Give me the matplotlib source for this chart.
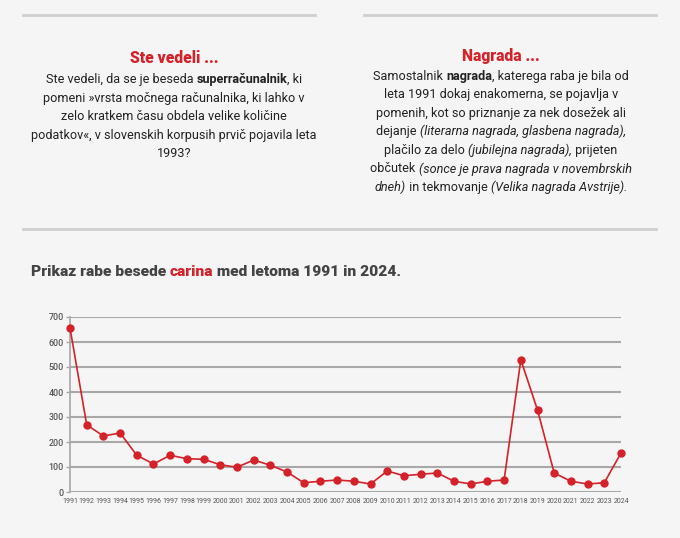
import numpy as np
import matplotlib.pyplot as plt

# data
years = list(range(1991, 2025))
counts = [656, 269, 224, 236, 147, 112, 147, 133, 131, 109,
          99, 128, 107, 80, 37, 43, 48, 43, 32, 84,
          65, 71, 76, 43, 32, 43, 48, 529, 328, 76,
          43, 32, 37, 156]
y_ticks = [0, 100, 200, 300, 400, 500, 600, 700]

RED = '#d3222a'
DARK = '#222222'
BG = '#f5f5f5'
W, H = 680, 538
BODY = 'Roboto'

fig = plt.figure(figsize=(W / 100, H / 100), dpi=100)
fig.patch.set_facecolor(BG)
renderer = fig.canvas.get_renderer()


def fx(px):
  return px / W


def fy(py):
  return 1 - py / H


def seg_width(s, **kw):
  # measure width with spaces kept
  a = fig.text(0, 0, 'a' + s + 'a', **kw)
  b = fig.text(0, 0, 'aa', **kw)
  w = a.get_window_extent(renderer).width - b.get_window_extent(renderer).width
  a.remove()
  b.remove()
  return w


def line_width(parts, size, family=BODY):
  return sum(seg_width(s, fontsize=size, fontweight=wt, fontstyle=st, family=family)
             for s, wt, st, c in parts)


def fit(parts, target):
  return 10 * target / line_width(parts, 10)


def rich_line(xc, y, parts, size, family=BODY):
  # parts: (text, weight, style, color)
  kws = []
  widths = []
  for s, wt, st, c in parts:
    kw = dict(fontsize=size, fontweight=wt, fontstyle=st, color=c, family=family)
    kws.append(kw)
    widths.append(seg_width(s, **kw))
  x = xc - sum(widths) / 2
  for (s, wt, st, c), kw, w in zip(parts, kws, widths):
    fig.text(fx(x), fy(y), s, va='baseline', ha='left', **kw)
    x += w


def n(s):
  return (s, 'normal', 'normal', DARK)


def b(s):
  return (s, 'bold', 'normal', DARK)


def i(s):
  return (s, 'normal', 'italic', DARK)


# divider lines
for x0, x1, yy in [(23, 315, 15), (364, 656, 15), (23, 656, 229)]:
  fig.add_artist(plt.Line2D([fx(x0), fx(x1)], [fy(yy), fy(yy)], color='#cfcfcf', lw=2))

left_title = [('Ste vedeli ...', 'heavy', 'normal', RED)]
left_lines = [
  [n('Ste vedeli, da se je beseda '), b('superračunalnik'), n(', ki')],
  [n('pomeni »vrsta močnega računalnika, ki lahko v')],
  [n('zelo kratkem času obdela velike količine')],
  [n('podatkov«, v slovenskih korpusih prvič pojavila leta')],
  [n('1993?')],
]
right_title = [('Nagrada ...', 'heavy', 'normal', RED)]
right_lines = [
  [n('Samostalnik '), b('nagrada'), n(', katerega raba je bila od')],
  [n('leta 1991 dokaj enakomerna, se pojavlja v')],
  [n('pomenih, kot so priznanje za nek dosežek ali')],
  [n('dejanje '), i('(literarna nagrada, glasbena nagrada),')],
  [n('plačilo za delo '), i('(jubilejna nagrada),'), n(' prijeten')],
  [n('občutek '), i('(sonce je prava nagrada v novembrskih')],
  [i('dneh)'), n(' in tekmovanje '), i('(Velika nagrada Avstrije).')],
]

# sizes fitted to widths measured on the reference
body_size = fit(left_lines[3], 284)
head_size = fit(left_title, 88)

# left box
rich_line(174, 63, left_title, head_size)
for k, parts in enumerate(left_lines):
  rich_line(174, 83 + k * 18.6, parts, body_size)

# right box
rich_line(501, 61, right_title, head_size)
for k, parts in enumerate(right_lines):
  rich_line(501, 79.5 + k * 18.6, parts, body_size)

# chart title
title_parts = [('Prikaz rabe besede ', 'heavy', 'normal', '#444444'),
               ('carina', 'heavy', 'normal', RED),
               (' med letoma 1991 in 2024.', 'heavy', 'normal', '#444444')]
tsize = fit(title_parts, 368)
rich_line(32 + 184, 276, title_parts, size=tsize)

# chart
ax = fig.add_axes([fx(70), fy(492), fx(621) - fx(70), fy(317) - fy(492)])
ax.set_facecolor(BG)
ax.plot(years, counts, color=RED, lw=1.2, marker='o', markersize=5, clip_on=False, zorder=3)
ax.set_xlim(1991, 2024)
ax.set_ylim(0, 700)
ax.set_yticks(y_ticks)
ax.set_xticks(years)
ax.set_xticklabels([str(y) for y in years], fontsize=5.0, color='#555555', family='Roboto')
ax.set_yticklabels([str(v) for v in y_ticks], fontsize=6.4, color='#555555',
                   family='Roboto', fontweight='medium')
ax.grid(axis='y', color='#a8a8a8', lw=1.5)
ax.set_axisbelow(True)
for side in ['top', 'right', 'bottom']:
  ax.spines[side].set_visible(False)
ax.spines['left'].set_color('#a8a8a8')
ax.spines['left'].set_linewidth(1.2)
ax.tick_params(axis='y', length=3, width=1, color='#a8a8a8', pad=1.5)
ax.tick_params(axis='x', length=0, pad=4)

fig.savefig('out.png', dpi=100, facecolor=BG)
